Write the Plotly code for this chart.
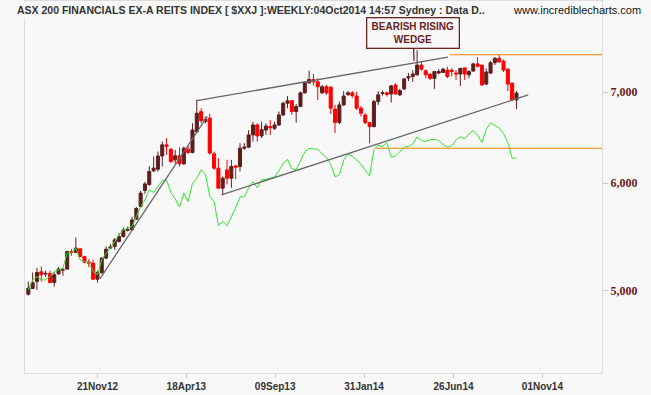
import math
import pandas as pd
import plotly.graph_objects as go

# ---------------- data ----------------
first_week = "2012-08-03"
n_weeks = 114

opens = [4970,5018,5078,5163,5143,5149,5070,5145,5178,5187,
         5344,5335,5368,5299,5248,5240,5099,5155,5285,5375,
         5390,5436,5482,5540,5545,5645,5768,5926,5987,6127,
         6144,6283,6403,6356,6242,6285,6200,6356,6320,6547,
         6774,6660,6700,6306,6155,5950,6137,6051,6178,6172,
         6367,6378,6512,6623,6501,6566,6604,6585,6623,6736,
         6871,6901,6775,6832,6993,7113,7153,7125,6993,7066,
         7060,6803,6651,6852,6975,6993,6955,6814,6736,6648,
         6604,6890,6985,6993,6980,7087,6970,7040,7172,7190,
         7210,7330,7261,7216,7167,7232,7240,7268,7268,7232,
         7220,7295,7210,7256,7345,7330,7098,7232,7360,7415,
         7380,7280,7110,6909]
highs = [5078,5157,5196,5210,5175,5175,5160,5205,5196,5350,
         5365,5472,5377,5305,5275,5269,5172,5293,5390,5411,
         5467,5513,5565,5576,5668,5765,5924,6014,6175,6277,
         6330,6439,6476,6367,6348,6378,6385,6392,6642,6911,
         6813,6717,6750,6330,6260,6068,6242,6242,6189,6421,
         6421,6566,6660,6641,6660,6641,6679,6660,6775,6890,
         6955,6909,6863,7007,7125,7261,7220,7167,7087,7087,
         7075,6852,6890,7014,7014,7014,7003,6840,6755,6660,
         6909,7014,7020,7010,7087,7108,7040,7172,7232,7268,
         7519,7373,7277,7235,7256,7280,7295,7310,7290,7268,
         7295,7300,7268,7360,7430,7330,7290,7380,7430,7460,
         7400,7290,7110,7015]
lows = [4960,5015,5007,5078,5117,5064,5035,5137,5128,5181,
        5305,5330,5293,5239,5205,5093,5069,5146,5275,5365,
        5359,5426,5470,5528,5535,5638,5755,5893,5974,6115,
        6120,6172,6295,6210,6200,6172,6190,6305,6314,6532,
        6642,6642,6295,6137,5943,5883,5987,5953,6041,6120,
        6348,6367,6438,6438,6477,6512,6512,6566,6611,6725,
        6813,6736,6648,6830,6985,7105,7080,6909,6980,6970,
        6745,6532,6633,6840,6955,6935,6794,6717,6633,6420,
        6596,6852,6960,6950,6880,6970,6955,7027,7135,7125,
        7198,7261,7167,7148,7040,7220,7232,7167,7190,7148,
        7075,7148,7167,7250,7300,7080,7087,7220,7330,7360,
        7245,7015,6909,6805]
closes = [5022,5068,5157,5137,5149,5070,5137,5187,5181,5344,
          5335,5375,5299,5248,5240,5099,5157,5285,5365,5384,
          5451,5482,5542,5545,5638,5748,5900,5993,6120,6155,
          6283,6403,6385,6224,6285,6200,6367,6320,6566,6755,
          6671,6686,6315,6155,5950,6051,6051,6172,6165,6367,
          6378,6512,6623,6501,6570,6611,6592,6623,6736,6871,
          6901,6775,6832,6993,7113,7153,7125,7066,7066,6993,
          6814,6651,6852,6955,6993,6960,6814,6755,6648,6604,
          6890,6970,6993,6975,7075,6980,7020,7160,7190,7220,
          7330,7280,7210,7167,7250,7250,7280,7190,7250,7220,
          7290,7220,7250,7345,7315,7087,7245,7360,7415,7370,
          7268,7098,6909,6990]
# green relative-strength style line (drawn on the price scale)
green_line = [5007,5093,5122,5093,5093,5122,5166,5181,5196,5329,
              5329,5375,5269,5254,5245,5166,5137,5269,5329,5375,
              5435,5497,5544,5560,5575,5670,5767,5833,5933,5906,
              5967,6027,6034,5903,5843,5762,5900,5816,6000,6051,
              6137,6095,5870,5813,5586,5624,5582,5667,5755,5863,
              5863,5953,6014,5953,6034,6039,6049,6065,6127,6205,
              6247,6147,6142,6242,6327,6364,6359,6355,6306,6268,
              6195,6065,6085,6242,6306,6279,6242,6195,6132,6075,
              6353,6399,6386,6424,6270,6284,6327,6378,6385,6411,
              6490,6449,6440,6457,6462,6451,6408,6378,6394,6457,
              6490,6468,6523,6561,6506,6430,6572,6647,6616,6588,
              6525,6427,6260,6260]

# trend lines (date, price)
trend_a = [("2012-11-27", 5102), ("2013-05-20", 6719)]
trend_upper = [("2013-05-03", 6901), ("2014-06-14", 7430)]
trend_lower = [("2013-06-12", 5883), ("2014-10-22", 6968)]
resist_hi = [("2014-06-17", 7460), ("2015-02-18 14:00", 7460)]
support_lo = [("2014-02-17", 6366), ("2015-02-18 14:00", 6366)]

tick_dates = ["2012-11-23", "2013-04-16", "2013-09-07", "2014-01-29", "2014-06-23", "2014-11-14"]
tick_labels = ["21Nov12", "18Apr13", "09Sep13", "31Jan14", "26Jun14", "01Nov14"]
y_ticks = [5000, 6000, 7000]
x_range = ["2012-07-28 15:00", "2015-02-18 14:00"]
y_range_log = [3.6384, 3.9123]

wedge_point = ("2014-04-20", 7385)
title_text = "ASX 200 FINANCIALS EX-A REITS INDEX [ $XXJ ]:WEEKLY:04Oct2014 14:57 Sydney : Data D.."
site_text = "www.incrediblecharts.com"

# ---------------- figure ----------------
dates = pd.date_range(first_week, periods=n_weeks, freq="7D")
UP = "#5e1e1e"
DOWN = "#ff0000"
GRAY = "#666666"
ORANGE = "#ff8000"
BG = "#f8f8f8"

fig = go.Figure()

for seg in [support_lo, resist_hi]:
    fig.add_trace(go.Scatter(x=[p[0] for p in seg], y=[p[1] for p in seg], mode="lines",
                             line=dict(color=ORANGE, width=1.2), hoverinfo="skip", showlegend=False))

fig.add_trace(go.Scatter(x=dates, y=green_line, mode="lines",
                         line=dict(color="#2ee62e", width=1), hoverinfo="skip", showlegend=False))

for seg in [trend_a, trend_upper, trend_lower]:
    fig.add_trace(go.Scatter(x=[p[0] for p in seg], y=[p[1] for p in seg], mode="lines",
                             line=dict(color=GRAY, width=1.3), hoverinfo="skip", showlegend=False))

fig.add_trace(go.Candlestick(
    x=dates, open=opens, high=highs, low=lows, close=closes,
    increasing=dict(line=dict(color=UP, width=1), fillcolor=UP),
    decreasing=dict(line=dict(color=DOWN, width=1), fillcolor=DOWN),
    whiskerwidth=0, showlegend=False, hoverinfo="skip"))

fig.update_layout(
    width=651, height=395,
    margin=dict(l=25, r=49, t=1, b=22),
    paper_bgcolor=BG, plot_bgcolor=BG,
    boxgap=0.3, boxgroupgap=0,
    showlegend=False,
    xaxis=dict(type="date", range=x_range, rangeslider=dict(visible=False),
               showgrid=False, zeroline=False, showline=True, linecolor="#dddddd", linewidth=1,
               mirror=True, ticks="outside", ticklen=4, tickcolor="#cccccc",
               tickvals=tick_dates, ticktext=tick_labels,
               tickfont=dict(family="Liberation Sans", size=10, color="#333333", weight="bold")),
    yaxis=dict(type="log", range=y_range_log, side="right", showgrid=False, zeroline=False,
               showline=True, linecolor="#dddddd", linewidth=1, mirror=True,
               ticks="outside", ticklen=5, tickcolor="#cccccc",
               tickvals=y_ticks, tickformat=",d",
               tickfont=dict(family="Liberation Serif", size=12, color="#6b1b1b", weight="bold")),
)

fig.add_annotation(xref="paper", yref="paper", x=-0.0173, y=0.9755, xanchor="left", yanchor="middle",
                   text=title_text, showarrow=False, bgcolor=BG,
                   font=dict(family="Liberation Sans", size=10.5, color="#333333", weight="bold"))
fig.add_annotation(xref="paper", yref="paper", x=1.0711, y=0.9755, xanchor="right", yanchor="middle",
                   text=site_text, showarrow=False,
                   font=dict(family="Liberation Sans", size=11, color="#111111"))
# log axis: annotation y is given in log10 units
fig.add_annotation(x=wedge_point[0], y=math.log10(wedge_point[1]), text="BEARISH RISING<br>WEDGE",
                   showarrow=True, arrowhead=0, arrowwidth=1.3, arrowcolor="#6b2222",
                   ax=-1, ay=-28, bgcolor=BG, bordercolor="#6b2222", borderwidth=1.3,
                   borderpad=1, width=89, height=27,
                   font=dict(family="Liberation Sans", size=10, color="#6b2222", weight="bold"))

fig.write_html("out.html")
